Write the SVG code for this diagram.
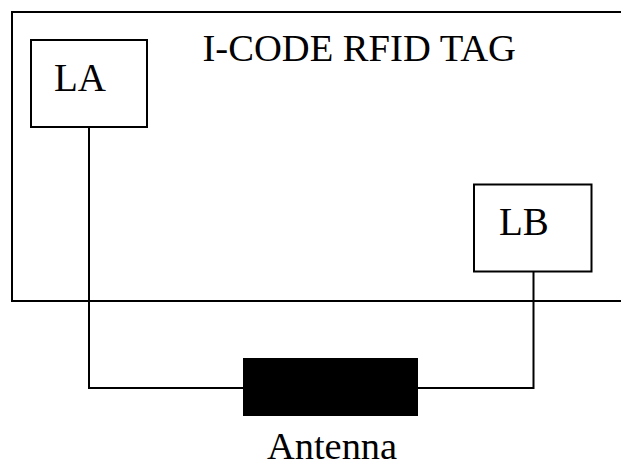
<svg xmlns="http://www.w3.org/2000/svg" width="621" height="467" viewBox="0 0 621 467">
<style>
.box{fill:#fff;stroke:#000;stroke-width:2}
.wire{fill:none;stroke:#000;stroke-width:2}
.t{font-family:"Liberation Serif","Times New Roman",serif;fill:#000}
</style>
<rect width="621" height="467" fill="#fff"/>
<g id="tag">
<path class="wire" d="M640,12 H12 V301 H640"/>
<text class="t" x="202.5" y="61" font-size="38.6">I-CODE RFID TAG</text>
</g>
<g id="connectors">
<path class="wire" d="M89,127 V388 H243"/>
<path class="wire" d="M418,388 H533.5 V272"/>
</g>
<g id="LA">
<rect class="box" x="31" y="40" width="116" height="87"/>
<text class="t" x="54" y="91" font-size="39">LA</text>
</g>
<g id="LB">
<rect class="box" x="474" y="184.5" width="117.5" height="87"/>
<text class="t" x="499" y="235" font-size="39">LB</text>
</g>
<g id="antenna">
<rect x="243" y="358" width="175" height="58" fill="#000"/>
<text class="t" x="267" y="459" font-size="38.4">Antenna</text>
</g>
</svg>
